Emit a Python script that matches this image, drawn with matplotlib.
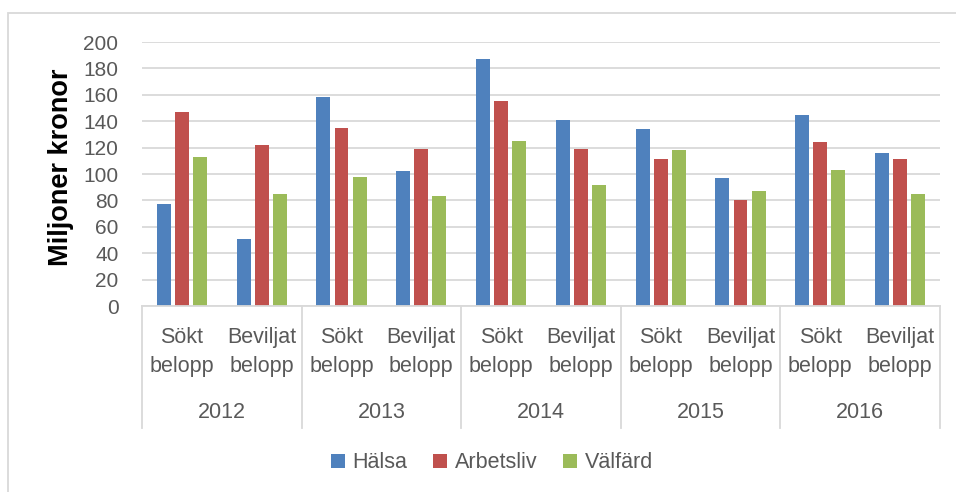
import numpy as np
import matplotlib
matplotlib.use("Agg")
import matplotlib.pyplot as plt
from matplotlib.patches import Rectangle
from matplotlib.lines import Line2D


years = ["2012", "2013", "2014", "2015", "2016"]
sub_labels = ["Sökt\nbelopp", "Beviljat\nbelopp"]

series_names = ["Hälsa", "Arbetsliv", "Välfärd"]
halsa = [77, 51, 158, 102, 187, 141, 134, 97, 145, 116]
arbetsliv = [147, 122, 135, 119, 155, 119, 111, 80, 124, 111]
valfard = [113, 85, 98, 83, 125, 92, 118, 87, 103, 85]

colors = ["#4F81BD", "#C0504D", "#9BBB59"]
y_ticks = list(range(0, 201, 20))

W, H = 956, 492
plt.rcParams["font.family"] = ["Liberation Sans", "DejaVu Sans"]

fig = plt.figure(figsize=(W / 100, H / 100), dpi=100)
fig.patch.set_facecolor("white")

# outer chart border (only top/left visible in the crop)
fig.add_artist(Rectangle((8 / W, -0.1), 1.2, 1 - 13 / H + 0.1,
                         transform=fig.transFigure, fill=False,
                         edgecolor="#D9D9D9", linewidth=1.3))

left, right, top, bottom = 142, 940, 42, 306
ax = fig.add_axes([left / W, 1 - bottom / H, (right - left) / W, (bottom - top) / H])

n_cat = len(halsa)
x = np.arange(n_cat)
bar_w = 0.175
step = 0.226
for i, (vals, col) in enumerate(zip([halsa, arbetsliv, valfard], colors)):
    ax.bar(x + (i - 1) * step, vals, width=bar_w, color=col,
           label=series_names[i], zorder=3)

ax.set_xlim(-0.5, n_cat - 0.5)
ax.set_ylim(0, 200)
ax.set_yticks(y_ticks)
ax.set_yticklabels([str(t) for t in y_ticks], fontsize=15, color="#595959")
ax.tick_params(axis="y", length=0, pad=17)
ax.set_xticks([])
ax.grid(axis="y", color="#D9D9D9", linewidth=1.3, zorder=0)
for s in ["left", "right", "top"]:
    ax.spines[s].set_visible(False)
ax.spines["bottom"].set_color("#D9D9D9")
ax.spines["bottom"].set_linewidth(1.3)
ax.spines["bottom"].set_zorder(4)

# two-level category axis
ph = bottom - top
trans = ax.get_xaxis_transform()
for k in range(len(years) + 1):
    xpos = k * 2 - 0.5
    ax.add_line(Line2D([xpos, xpos], [0, -(428 - bottom) / ph], transform=trans,
                       color="#D9D9D9", linewidth=1.3, clip_on=False))
for j in range(n_cat):
    ax.text(j, -(352 - bottom) / ph, sub_labels[j % 2], transform=trans,
            ha="center", va="center", fontsize=15.5, color="#595959",
            linespacing=1.5)
for k, yr in enumerate(years):
    ax.text(k * 2 + 0.5, -(412 - bottom) / ph, yr, transform=trans,
            ha="center", va="center", fontsize=15.5, color="#595959")

fig.text(61 / W, 1 - 167 / H, "Miljoner kronor", rotation=90, ha="center",
         va="center", fontsize=19.5, fontweight="bold", color="black")

fig.legend(loc="center", bbox_to_anchor=(492 / W, 1 - 463 / H), ncol=3,
           frameon=False, fontsize=15.5, handlelength=0.65, handleheight=0.65,
           handletextpad=0.35, columnspacing=1.2, labelcolor="#595959")

fig.savefig("out.png", dpi=100, facecolor="white")
